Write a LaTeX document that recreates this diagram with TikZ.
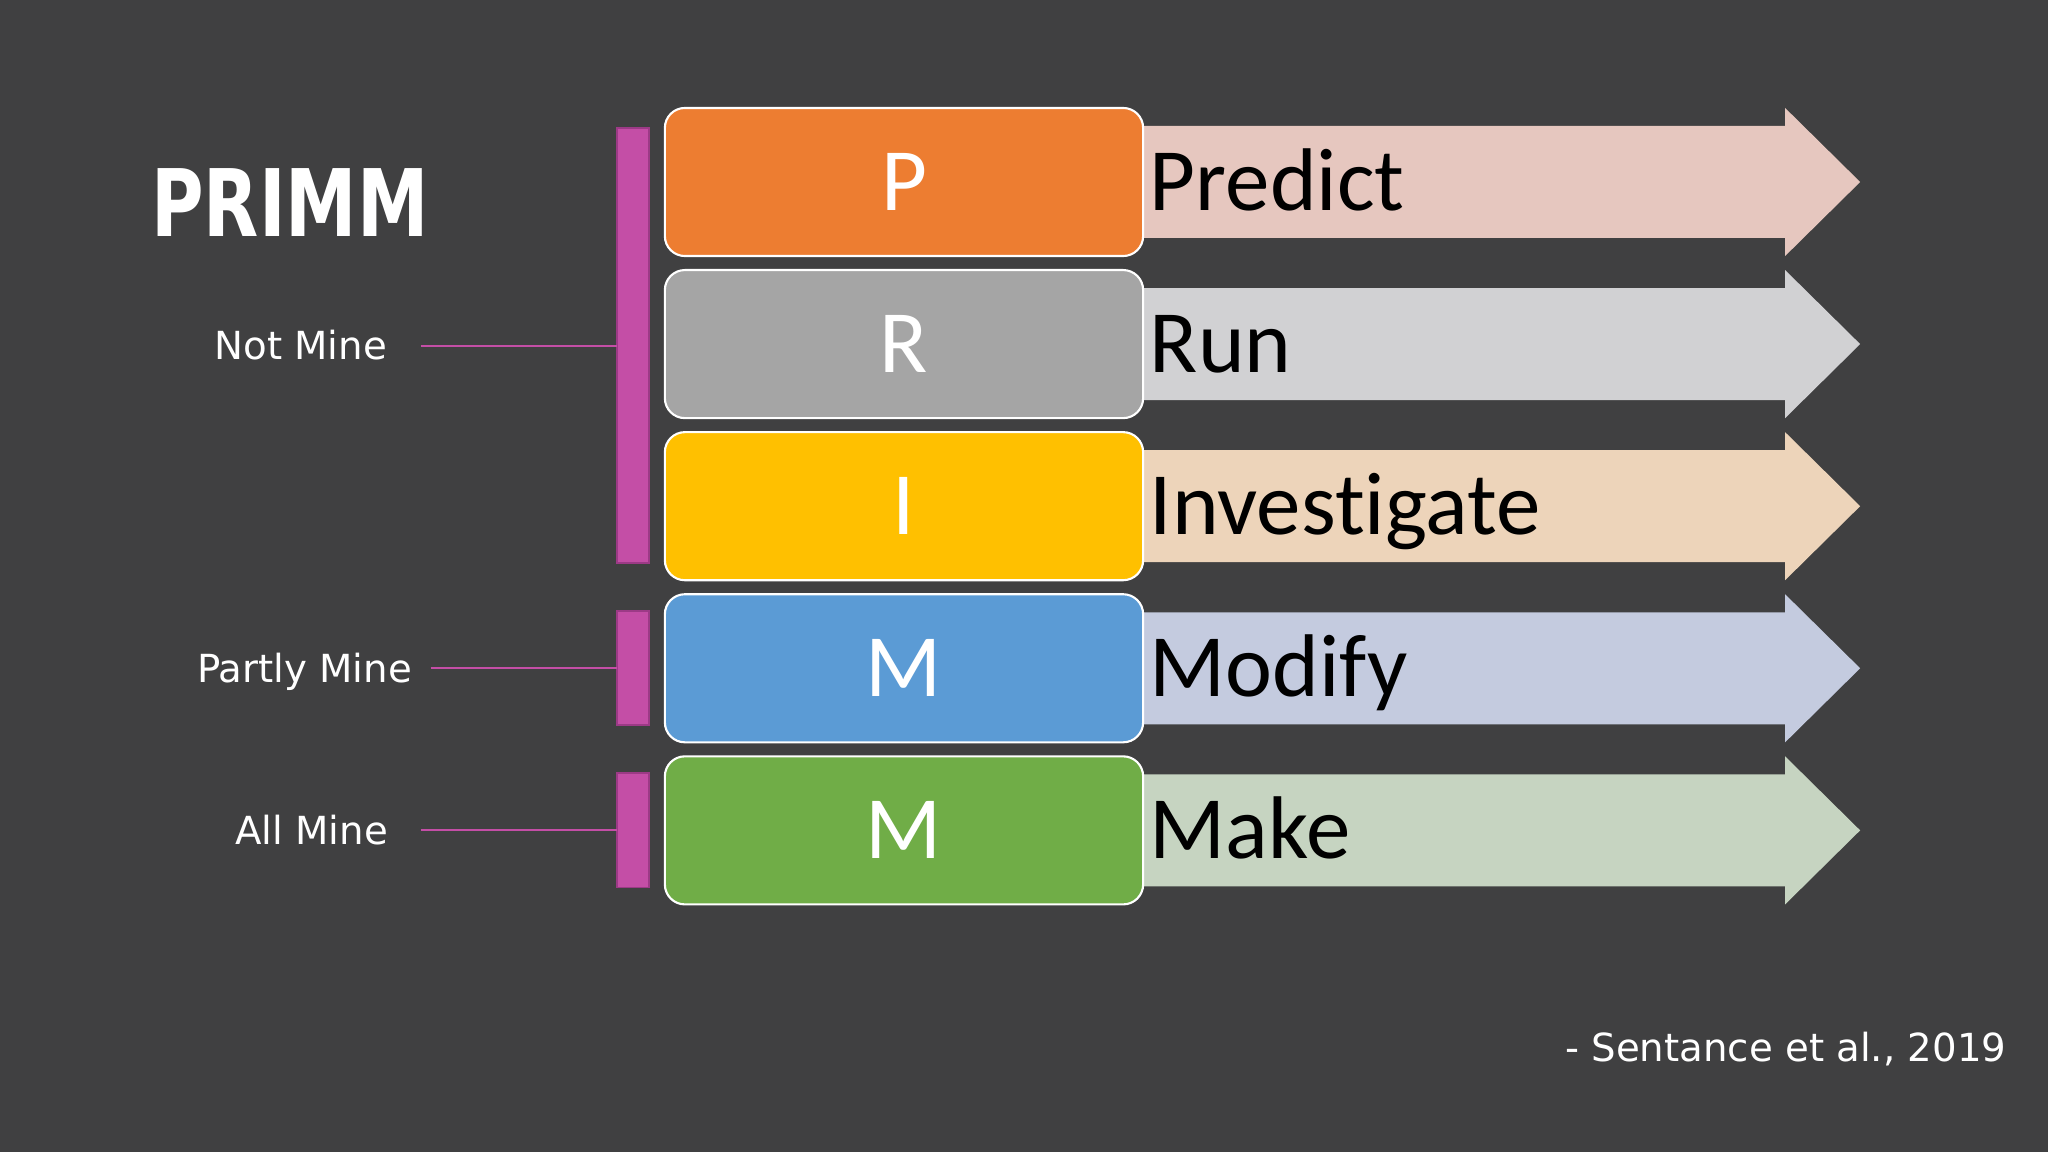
\documentclass[tikz,border=0pt]{standalone}
\usepackage{fontspec}
\setmainfont{DejaVu Sans}
\newfontfamily\calibrifont[Ligatures=NoCommon]{Carlito}
\usepackage{graphicx}
\usetikzlibrary{positioning,calc,fit}
\pgfdeclarelayer{background}
\pgfsetlayers{background,main}
\definecolor{slidebg}{HTML}{404041}
\definecolor{primmorange}{HTML}{ED7D31}
\definecolor{primmgray}{HTML}{A5A5A5}
\definecolor{primmgold}{HTML}{FFC000}
\definecolor{primmblue}{HTML}{5B9BD5}
\definecolor{primmgreen}{HTML}{70AD47}
\definecolor{predictarrow}{HTML}{E6C7BF}
\definecolor{runarrow}{HTML}{D1D1D3}
\definecolor{investarrow}{HTML}{EDD4BA}
\definecolor{modifyarrow}{HTML}{C4CBDF}
\definecolor{makearrow}{HTML}{C6D4C1}
\definecolor{barfill}{HTML}{C44EA6}
\definecolor{barline}{HTML}{9C3A86}

\begin{document}
\begin{tikzpicture}[x=0.01cm, y=-0.01cm,
    letterbox/.style={rounded corners=0.2cm, draw=white, line width=0.6pt, minimum width=4.78cm, minimum height=1.48cm, inner sep=0pt, outer sep=0pt, text=white, font=\calibrifont\fontsize{25.3}{30}\selectfont, node distance=0.14cm},
    stagetext/.style={anchor=west, inner sep=0pt, text=black, text height=16.2pt, text depth=0pt, font=\calibrifont\fontsize{25.3}{30}\selectfont},
    stagebar/.style={fill=barfill, draw=barline, line width=0.5pt, inner sep=0pt, outer sep=0pt},
    sidelabel/.style={inner sep=0pt, text=white, text height=8pt, text depth=0pt, font=\fontsize{11}{13}\selectfont},
    guide/.style={draw=barfill, line width=0.6pt}]
    \path[use as bounding box] (0,0) rectangle (2048,1152);

    % stages
    \node[letterbox, fill=primmorange] (p) at (904,182) {P};
    \node[letterbox, fill=primmgray, below=of p] (r) {R};
    \node[letterbox, fill=primmgold, below=of r] (i) {I};
    \node[letterbox, fill=primmblue, below=of i] (m) {M};
    \node[letterbox, fill=primmgreen, below=of m] (mk) {M};

    \node[stagetext] (predict) at ($(p.east)+(6,0)$) {Predict};
    \node[stagetext] (run) at ($(r.east)+(6,0)$) {Run};
    \node[stagetext] (investigate) at ($(i.east)+(6,0)$) {Investigate};
    \node[stagetext] (modify) at ($(m.east)+(6,0)$) {Modify};
    \node[stagetext] (make) at ($(mk.east)+(6,0)$) {Make};

    \begin{pgfonlayer}{background}
        \fill[slidebg] (0,0) rectangle (2048,1152);
        \fill[predictarrow] ($(p.east)+(-20,-56)$) -- ++(662,0) -- ++(0,-18) -- ++(75,74) -- ++(-75,74) -- ++(0,-18) -- ++(-662,0) -- cycle;
        \fill[runarrow] ($(r.east)+(-20,-56)$) -- ++(662,0) -- ++(0,-18) -- ++(75,74) -- ++(-75,74) -- ++(0,-18) -- ++(-662,0) -- cycle;
        \fill[investarrow] ($(i.east)+(-20,-56)$) -- ++(662,0) -- ++(0,-18) -- ++(75,74) -- ++(-75,74) -- ++(0,-18) -- ++(-662,0) -- cycle;
        \fill[modifyarrow] ($(m.east)+(-20,-56)$) -- ++(662,0) -- ++(0,-18) -- ++(75,74) -- ++(-75,74) -- ++(0,-18) -- ++(-662,0) -- cycle;
        \fill[makearrow] ($(mk.east)+(-20,-56)$) -- ++(662,0) -- ++(0,-18) -- ++(75,74) -- ++(-75,74) -- ++(0,-18) -- ++(-662,0) -- cycle;
    \end{pgfonlayer}

    % ownership bars
    \node[stagebar, fit={($(p.north west)+(-48,20)$) ($(i.south west)+(-16,-17)$)}] (notbar) {};
    \node[stagebar, fit={($(m.north west)+(-48,17)$) ($(m.south west)+(-16,-17)$)}] (partbar) {};
    \node[stagebar, fit={($(mk.north west)+(-48,17)$) ($(mk.south west)+(-16,-17)$)}] (allbar) {};

    \node[sidelabel, left=2.29cm of notbar] (notmine) {Not Mine};
    \node[sidelabel, left=2.04cm of partbar] (partly) {Partly Mine};
    \node[sidelabel, left=2.28cm of allbar] (allmine) {All Mine};

    \draw[guide] ($(notmine.east)+(33,0)$) -- (notbar.west);
    \draw[guide] ($(partly.east)+(18,0)$) -- (partbar.west);
    \draw[guide] ($(allmine.east)+(32,0)$) -- (allbar.west);

    \node[inner sep=0pt, text=white, font=\bfseries\fontsize{26.5}{30}\selectfont] (title) at (290,203) {\scalebox{0.77}[1]{PRIMM}};
    \node[sidelabel, anchor=east] (cite) at (2007,1047) {- Sentance et al., 2019};
\end{tikzpicture}
\end{document}
